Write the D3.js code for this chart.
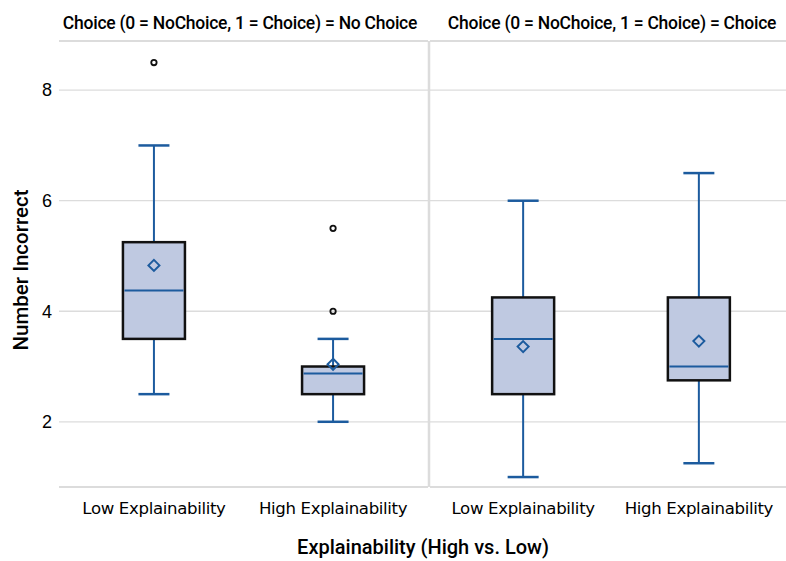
<!DOCTYPE html>
<html>
<head>
<meta charset="utf-8">
<script src="https://cdn.jsdelivr.net/npm/d3@7"></script>
<style>
  body { margin: 0; background: #fff; }
  text { fill: #000; }
</style>
</head>
<body>
<script>
// panel labels and categories
const panels = ["No Choice", "Choice"];
const categories = ["Low Explainability", "High Explainability"];

// box stats, order: [NoChoice-Low, NoChoice-High, Choice-Low, Choice-High]
const whiskLow = [2.5, 2.0, 1.0, 1.25];
const q1 = [3.5, 2.5, 2.5, 2.75];
const median = [4.375, 2.875, 3.5, 3.0];
const q3 = [5.25, 3.0, 4.25, 4.25];
const whiskHigh = [7.0, 3.5, 6.0, 6.5];
const means = [4.83, 3.04, 3.36, 3.46];
const outliers = [[8.5], [4.0, 5.5], [], []];
const yTicks = [2, 4, 6, 8];

const W = 786, H = 561;
const margin = { top: 41, bottom: 74, left: 59 };
const panelW = [369, 362], gap = 2;

const svg = d3.select('body').append('svg')
    .attr('width', W)
    .attr('height', H)
    .style('font-family', 'Liberation Sans, Arial, sans-serif');

const y = d3.scaleLinear().domain([0.82, 8.89]).range([H - margin.bottom, margin.top]);

const blue = '#1c5b9e';
const boxFill = '#bfc9e1';

panels.forEach((p, pi) => {
    const x0 = margin.left + pi * (panelW[0] + gap);
    const pw = panelW[pi];
    const x = d3.scalePoint().domain(categories).range([x0, x0 + pw]).padding(0.53);
    const g = svg.append('g');

    // grid lines
    g.selectAll('line.grid').data(yTicks).join('line')
        .attr('x1', x0).attr('x2', x0 + pw)
        .attr('y1', d => y(d)).attr('y2', d => y(d))
        .attr('stroke', '#dcdcdc').attr('stroke-width', 1.3);

    // panel frame lines: top, bottom
    g.append('line').attr('x1', x0).attr('x2', x0 + pw)
        .attr('y1', margin.top).attr('y2', margin.top)
        .attr('stroke', '#dcdcdc').attr('stroke-width', 2);
    g.append('line').attr('x1', x0).attr('x2', x0 + pw)
        .attr('y1', H - margin.bottom).attr('y2', H - margin.bottom)
        .attr('stroke', '#dcdcdc').attr('stroke-width', 2);

    // panel header
    svg.append('text')
        .attr('x', x0 + (pi === 0 ? 181 : 182))
        .attr('y', 29)
        .attr('text-anchor', 'middle')
        .style('font-family', 'Roboto, sans-serif')
        .style('font-weight', 500)
        .style('font-size', '17.5px')
        .style('letter-spacing', '-0.25px')
        .text(`Choice (0 = NoChoice, 1 = Choice) = ${p}`);

    // category labels
    g.selectAll('text.cat').data(categories).join('text')
        .attr('class', 'cat')
        .attr('x', d => x(d))
        .attr('y', 514)
        .attr('text-anchor', 'middle')
        .style('font-family', 'DejaVu Sans, sans-serif')
        .style('font-size', '16.6px')
        .style('letter-spacing', '-0.35px')
        .text(d => d);

    categories.forEach((c, ci) => {
        const i = pi * 2 + ci;
        const cx = x(c);
        const bw = 62, cw = 31;
        // whiskers
        g.append('line').attr('x1', cx).attr('x2', cx)
            .attr('y1', y(whiskHigh[i])).attr('y2', y(q3[i]))
            .attr('stroke', blue).attr('stroke-width', 2);
        g.append('line').attr('x1', cx).attr('x2', cx)
            .attr('y1', y(q1[i])).attr('y2', y(whiskLow[i]))
            .attr('stroke', blue).attr('stroke-width', 2);
        [whiskHigh[i], whiskLow[i]].forEach(v => {
            g.append('line').attr('x1', cx - cw / 2).attr('x2', cx + cw / 2)
                .attr('y1', y(v)).attr('y2', y(v))
                .attr('stroke', blue).attr('stroke-width', 2.5);
        });
        // box
        g.append('rect')
            .attr('x', cx - bw / 2).attr('width', bw)
            .attr('y', y(q3[i])).attr('height', y(q1[i]) - y(q3[i]))
            .attr('fill', boxFill).attr('stroke', '#111').attr('stroke-width', 2.5);
        // median
        g.append('line').attr('x1', cx - bw / 2 + 1.5).attr('x2', cx + bw / 2 - 1.5)
            .attr('y1', y(median[i])).attr('y2', y(median[i]))
            .attr('stroke', blue).attr('stroke-width', 2);
        // mean diamond
        const my = y(means[i]);
        g.append('path')
            .attr('d', `M${cx},${my - 5.5}L${cx + 5.5},${my}L${cx},${my + 5.5}L${cx - 5.5},${my}Z`)
            .attr('fill', 'none').attr('stroke', blue).attr('stroke-width', 2);
        // outliers
        g.selectAll(null).data(outliers[i]).join('circle')
            .attr('cx', cx).attr('cy', d => y(d)).attr('r', 2.7)
            .attr('fill', 'none').attr('stroke', '#111').attr('stroke-width', 1.8);
    });
});

// divider between panels
svg.append('line')
    .attr('x1', margin.left + panelW[0] + 1).attr('x2', margin.left + panelW[0] + 1)
    .attr('y1', margin.top).attr('y2', H - margin.bottom)
    .attr('stroke', '#dcdcdc').attr('stroke-width', 2.5);

// y tick labels
svg.selectAll('text.ytick').data(yTicks).join('text')
    .attr('class', 'ytick')
    .attr('x', 52).attr('y', d => y(d)).attr('dy', '0.35em')
    .attr('text-anchor', 'end')
    .style('font-size', '18px')
    .text(d => d);

// axis titles
svg.append('text')
    .attr('transform', 'translate(28,270) rotate(-90)')
    .attr('text-anchor', 'middle')
    .style('font-family', 'Roboto, sans-serif')
    .style('font-weight', 500)
    .style('font-size', '20.5px')
    .text('Number Incorrect');

svg.append('text')
    .attr('x', 423).attr('y', 554)
    .attr('text-anchor', 'middle')
    .style('font-family', 'Roboto, sans-serif')
    .style('font-weight', 500)
    .style('font-size', '20px')
    .text('Explainability (High vs. Low)');
</script>
</body>
</html>
